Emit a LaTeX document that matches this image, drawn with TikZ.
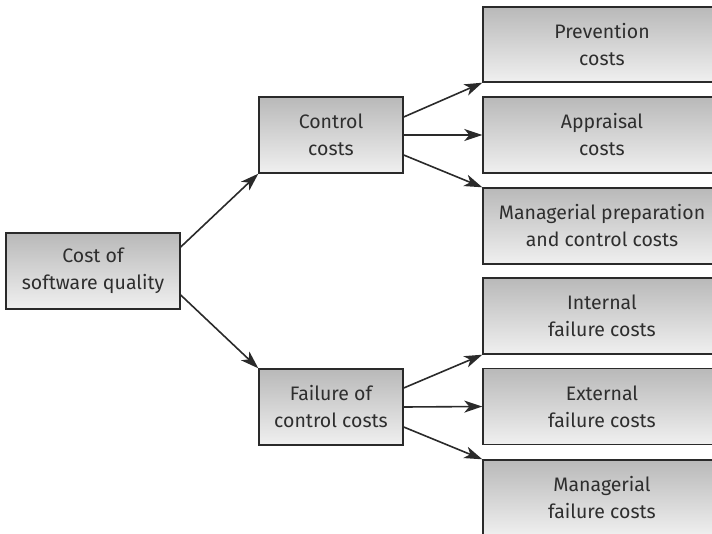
\documentclass[tikz,border=0pt]{standalone}
\usepackage{fontspec}
\setmainfont{Fira Sans}
\usetikzlibrary{arrows.meta}
\definecolor{txt}{HTML}{2E2E2E}
\definecolor{edge}{HTML}{2A2A2A}
\tikzset{
  box/.style={draw=edge, line width=1.4pt, top color=gray!55, bottom color=gray!12,
    minimum height=76pt, inner sep=0pt, align=center, text=txt,
    font=\fontsize{19.5}{27}\selectfont},
  conn/.style={draw=edge, line width=1.6pt, -{Stealth[length=18pt,width=12pt,inset=5pt]}}
}
\begin{document}
\begin{tikzpicture}[x=1pt,y=-1pt]
\useasboundingbox (0,0) rectangle (712,533);
\clip (0,0) rectangle (712,533);
\node[box, minimum width=174pt] (root) at (93,271) {Cost of\\software quality};
\node[box, minimum width=144pt] (ctrl) at (331,135) {Control\\costs};
\node[box, minimum width=144pt] (fail) at (331,407) {Failure of\\control costs};
\node[box, minimum width=238pt, minimum height=75pt] (prev) at (602,44.5) {Prevention\\costs};
\node[box, minimum width=238pt] (appr) at (602,135) {Appraisal\\costs};
\node[box, minimum width=238pt] (mprep) at (602,226) {Managerial preparation\\and control costs};
\node[box, minimum width=238pt] (intf) at (602,316) {Internal\\failure costs};
\node[box, minimum width=238pt] (extf) at (602,406.5) {External\\failure costs};
\node[box, minimum width=238pt] (mfail) at (602,498) {Managerial\\failure costs};
\draw[conn] ([yshift=24pt]root.east) -- (ctrl.south west);
\draw[conn] ([yshift=-24pt]root.east) -- (fail.north west);
\draw[conn] ([yshift=18pt]ctrl.east) -- (prev.south west);
\draw[conn] (ctrl.east) -- (appr.west);
\draw[conn] ([yshift=-20pt]ctrl.east) -- (mprep.north west);
\draw[conn] ([yshift=19pt]fail.east) -- (intf.south west);
\draw[conn] (fail.east) -- (extf.west);
\draw[conn] ([yshift=-20pt]fail.east) -- (mfail.north west);
\end{tikzpicture}
\end{document}
